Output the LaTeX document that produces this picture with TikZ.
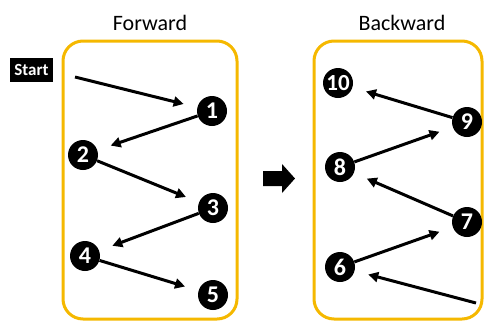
\documentclass[tikz,border=0pt]{standalone}
\usepackage{fontspec}
\setmainfont{Carlito}
\usetikzlibrary{arrows.meta}
\definecolor{boxgold}{HTML}{F5B800}
\tikzset{
  num/.style={circle, fill=black, text=white, minimum size=30pt, inner sep=0pt,
    font=\fontsize{24}{24}\selectfont\bfseries},
  link/.style={-{Triangle[length=10pt,width=10pt]}, line width=3pt, shorten >=14pt},
  frame/.style={draw=boxgold, line width=3pt, rounded corners=20pt},
  title/.style={font=\fontsize{22}{22}\selectfont},
}
\begin{document}
\begin{tikzpicture}[x=1pt, y=-1pt]
    \useasboundingbox (0,0) rectangle (487,322);

    \draw [frame] (63,41) rectangle (237,319);
    \draw [frame] (314,41) rectangle (482,319);

    \node [title] (fwd) at (150,23) {Forward};
    \node [title] (bwd) at (402,23) {Backward};

    \node [fill=black, text=white, inner xsep=3pt, minimum width=43pt, minimum height=24pt,
      font=\fontsize{17}{17}\selectfont\bfseries] (start) at (31.5,70) {Start};

    \node [num] (n1) at (212,111) {1};
    \node [num] (n2) at (83,155) {2};
    \node [num] (n3) at (213,208) {3};
    \node [num] (n4) at (85,256) {4};
    \node [num] (n5) at (213,295) {5};

    \node [num, font=\fontsize{23}{23}\selectfont\bfseries] (n10) at (338,83) {10};
    \node [num] (n9) at (467,122) {9};
    \node [num] (n8) at (340,167) {8};
    \node [num] (n7) at (467,222) {7};
    \node [num] (n6) at (340,267) {6};

    \coordinate (s0) at (75,77);
    \coordinate (s1) at (476,303);

    \draw [link] (s0) -- (n1);
    \draw [link] (n1) -- (n2);
    \draw [link] (n2) -- (n3);
    \draw [link] (n3) -- (n4);
    \draw [link] (n4) -- (n5);

    \draw [link] (s1) -- (n6);
    \draw [link] (n6) -- (n7);
    \draw [link] (n7) -- (n8);
    \draw [link] (n8) -- (n9);
    \draw [link] (n9) -- (n10);

    \fill [black]
    (263,171) -- (282,171) -- (282,164) -- (295,178.5)
    -- (282,193) -- (282,186) -- (263,186) -- cycle;
  \end{tikzpicture}
\end{document}
